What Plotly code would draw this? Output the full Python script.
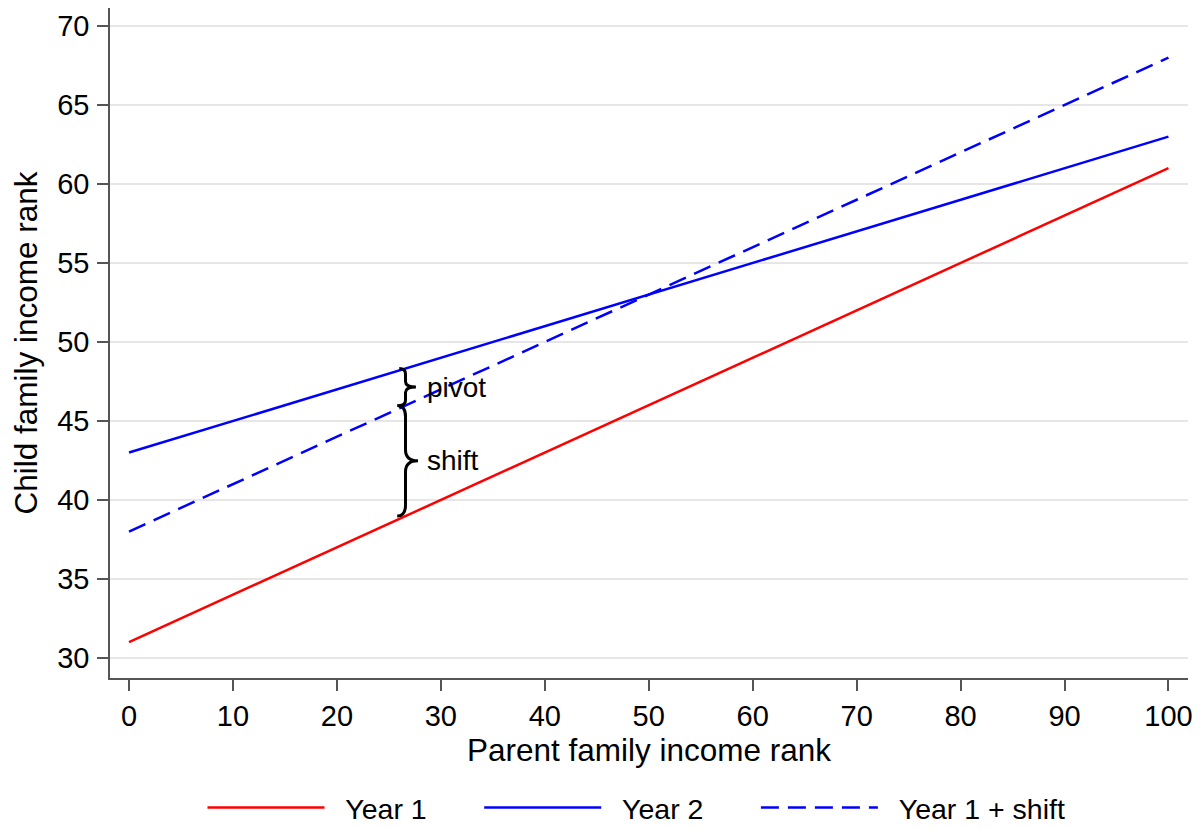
import numpy as np
import plotly.graph_objects as go

# ---- data ----
parent_rank = [0, 100]
year1 = [31, 61]
year2 = [43, 63]
year1_shift = [38, 68]
x_ticks = [0, 10, 20, 30, 40, 50, 60, 70, 80, 90, 100]
y_ticks = [30, 35, 40, 45, 50, 55, 60, 65, 70]
series_names = ["Year 1", "Year 2", "Year 1 + shift"]
brace_x = 26.6

FONT = "Liberation Sans, Arial, Helvetica, sans-serif"
PAD = "\u00a0\u00a0"
TAIL = "\u00a0" * 6

fig = go.Figure()
fig.add_trace(go.Scatter(x=parent_rank, y=year1, mode="lines", name=PAD + series_names[0] + TAIL,
                         line=dict(color="#ff0000", width=2.5)))
fig.add_trace(go.Scatter(x=parent_rank, y=year2, mode="lines", name=PAD + series_names[1] + TAIL,
                         line=dict(color="#0000ff", width=2.5)))
fig.add_trace(go.Scatter(x=parent_rank, y=year1_shift, mode="lines", name=PAD + series_names[2],
                         line=dict(color="#0000ff", width=2.5, dash="18px,9px")))

# brace endpoints from the lines at brace_x
y_red = float(np.interp(brace_x, parent_rank, year1))
y_dash = float(np.interp(brace_x, parent_rank, year1_shift))
y_blue = float(np.interp(brace_x, parent_rank, year2))


def brace(xs, yb, yt, a, b, c):
    ym = (yb + yt) / 2
    return (f"M{xs - a},{yt} Q{xs},{yt} {xs},{yt - c} L{xs},{ym + c} "
            f"Q{xs},{ym} {xs + b},{ym} Q{xs},{ym} {xs},{ym - c} "
            f"L{xs},{yb + c} Q{xs},{yb} {xs - a},{yb}")


shapes = [
    dict(type="path", xref="x", yref="y", path=brace(brace_x, y_dash, y_blue, 0.6, 1.0, 0.35),
         line=dict(color="black", width=3)),
    dict(type="path", xref="x", yref="y", path=brace(brace_x, y_red, y_dash, 0.8, 1.2, 0.7),
         line=dict(color="black", width=3)),
]

annotations = [
    dict(x=brace_x + 1.9, y=(y_dash + y_blue) / 2, text="pivot", showarrow=False,
         xanchor="left", yanchor="middle", font=dict(size=28, color="black", family=FONT)),
    dict(x=brace_x + 1.9, y=(y_red + y_dash) / 2, text="shift", showarrow=False,
         xanchor="left", yanchor="middle", font=dict(size=28, color="black", family=FONT)),
]

axis_common = dict(
    zeroline=False, showline=True, linecolor="#555555", linewidth=1.5, automargin=False,
    ticks="outside", ticklen=11, tickwidth=1.5, tickcolor="#555555",
    tickfont=dict(size=29, family=FONT, color="black"),
)

fig.update_layout(
    width=1203, height=829,
    margin=dict(l=102, r=23, t=0, b=159),
    paper_bgcolor="white", plot_bgcolor="white",
    font=dict(family=FONT, size=28, color="black"),
    shapes=shapes, annotations=annotations,
    showlegend=True,
    legend=dict(orientation="h", x=0.0858, xanchor="left", yref="container", y=0.035,
                yanchor="middle", itemwidth=117,
                font=dict(size=28.5, family=FONT)),
    xaxis=dict(range=[-1.83, 101.88], tickvals=x_ticks, showgrid=False,
               title=dict(text="Parent family income rank", standoff=4,
                          font=dict(size=31.5, family=FONT, color="black")),
               **axis_common),
    yaxis=dict(range=[28.73, 71.14], tickvals=y_ticks, showgrid=True, gridcolor="#e6e6e6",
               gridwidth=2, ticklabelstandoff=2,
               title=dict(text="Child family income rank",
                          font=dict(size=31.5, family=FONT, color="black")),
               **axis_common),
)

fig.write_html("out.html")
